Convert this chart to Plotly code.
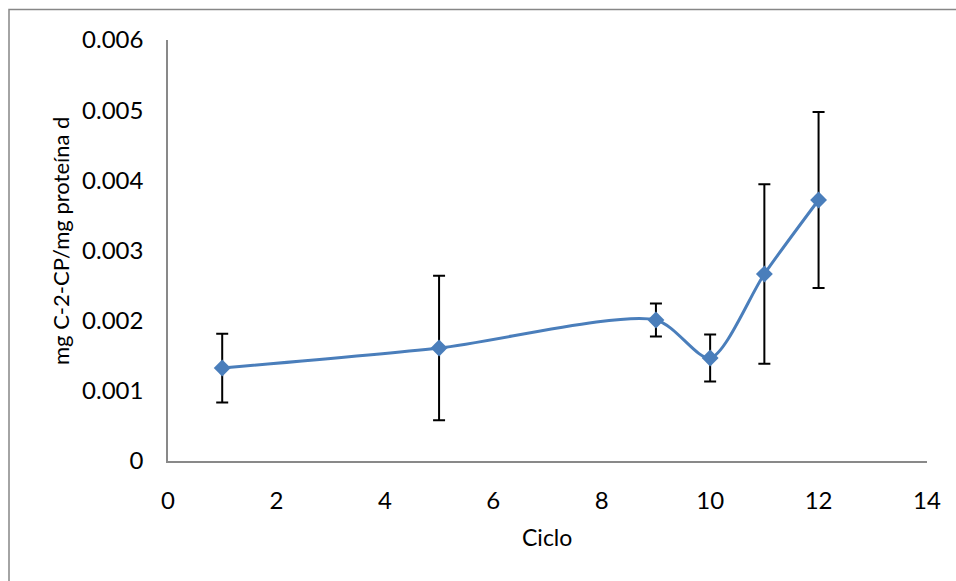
import plotly.graph_objects as go

# Measured concentration per cycle, with its standard deviation
ciclo = [1, 5, 9, 10, 11, 12]
mg_c2cp = [0.001325, 0.00161, 0.00201, 0.001468, 0.002665, 0.00372]
desv = [0.00049, 0.00103, 0.000235, 0.000335, 0.00128, 0.001254]

x_ticks = [0, 2, 4, 6, 8, 10, 12, 14]
y_ticks = [0, 0.001, 0.002, 0.003, 0.004, 0.005, 0.006]
y_tick_text = ["0", "0.001", "0.002", "0.003", "0.004", "0.005", "0.006"]

FONT = "Lato"
BLUE = "#4A7EBB"
AXIS_GREY = "#898989"

W, H = 956, 581
L, R, T, B = 168, 29, 40, 120
pw, ph = W - L - R, H - T - B


def px_to_paper_x(px):
    return (px - L) / pw


def px_to_paper_y(py):
    return (H - B - py) / ph


fig = go.Figure()
fig.add_trace(go.Scatter(
    x=ciclo,
    y=mg_c2cp,
    mode="lines+markers",
    line=dict(color=BLUE, width=3, shape="spline", smoothing=0.75),
    marker=dict(symbol="diamond", size=13, color=BLUE),
    error_y=dict(type="data", array=desv, visible=True,
                 color="black", thickness=2, width=6),
    showlegend=False,
))

fig.update_layout(
    width=W, height=H,
    margin=dict(l=L, r=R, t=T, b=B, pad=0),
    paper_bgcolor="white",
    plot_bgcolor="white",
    font=dict(family=FONT, size=24, color="black"),
    xaxis=dict(
        range=[0, 14], tickvals=x_ticks, ticktext=[str(v) for v in x_ticks],
        showgrid=False, zeroline=False, showline=True,
        linecolor=AXIS_GREY, linewidth=1.5, ticks="",
        ticklabelstandoff=17,
        tickfont=dict(family=FONT, size=24, color="black"),
    ),
    yaxis=dict(
        range=[0, 0.006], tickvals=y_ticks, ticktext=y_tick_text,
        showgrid=False, zeroline=False, showline=True,
        linecolor=AXIS_GREY, linewidth=1.5, ticks="",
        ticklabelstandoff=18,
        tickfont=dict(family=FONT, size=24, color="black"),
    ),
    annotations=[
        dict(text="Ciclo", x=px_to_paper_x(547), y=px_to_paper_y(537),
             xref="paper", yref="paper", showarrow=False,
             xanchor="center", yanchor="middle",
             font=dict(family=FONT, size=23, color="black")),
        dict(text="mg C-2-CP/mg proteína d", x=px_to_paper_x(60),
             y=px_to_paper_y(241), xref="paper", yref="paper",
             showarrow=False, textangle=-90,
             xanchor="center", yanchor="middle",
             font=dict(family=FONT, size=22, color="black")),
    ],
    shapes=[
        dict(type="rect", xref="paper", yref="paper",
             x0=px_to_paper_x(9), x1=px_to_paper_x(980),
             y0=px_to_paper_y(600), y1=px_to_paper_y(9.5),
             line=dict(color="#878787", width=1.5), fillcolor="rgba(0,0,0,0)",
             layer="below"),
    ],
)

fig.write_html("out.html")
